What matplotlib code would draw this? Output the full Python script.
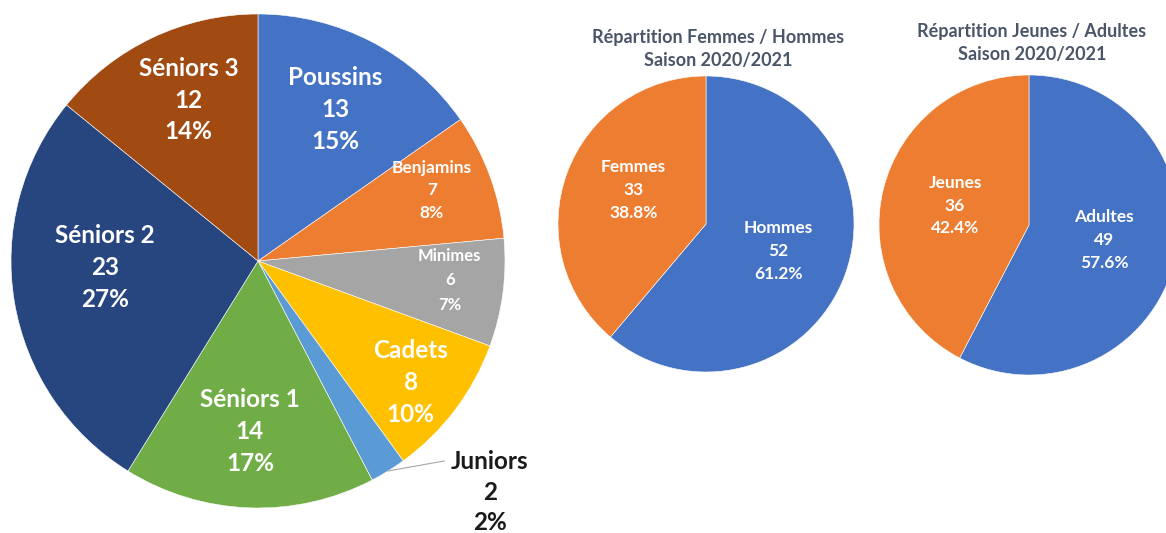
import numpy as np
import matplotlib.pyplot as plt

# --- data ---
cat_names = ["Poussins", "Benjamins", "Minimes", "Cadets", "Juniors",
             "Séniors 1", "Séniors 2", "Séniors 3"]
cat_counts = [13, 7, 6, 8, 2, 14, 23, 12]
cat_pcts = ["15%", "8%", "7%", "10%", "2%", "17%", "27%", "14%"]

sex_names = ["Hommes", "Femmes"]
sex_counts = [52, 33]
sex_pcts = ["61.2%", "38.8%"]

age_names = ["Adultes", "Jeunes"]
age_counts = [49, 36]
age_pcts = ["57.6%", "42.4%"]

title_sex = "Répartition Femmes / Hommes\nSaison 2020/2021"
title_age = "Répartition Jeunes / Adultes\nSaison 2020/2021"

cat_colors = ["#4472C4", "#ED7D31", "#A5A5A5", "#FFC000", "#5B9BD5",
              "#70AD47", "#274680", "#A14A12"]
duo_colors = ["#4472C4", "#ED7D31"]

FONT = ["Lato", "DejaVu Sans"]
W, H = 1166, 533


def px(x, y):
    # pixel position (y down) -> data coords (y up)
    return (x, H - y)


def put_labels(ax, wedges, names, counts, pcts, center, radius, fracs,
               sizes, spacing, nudges=None, skip=()):
    for i, w in enumerate(wedges):
        if i in skip:
            continue
        mid = (w.theta1 + w.theta2) / 2 + (nudges[i] if nudges else 0)
        a = np.deg2rad(mid)
        x = center[0] + fracs[i] * radius * np.cos(a)
        y = center[1] + fracs[i] * radius * np.sin(a)
        ax.text(x, y, f"{names[i]}\n{counts[i]}\n{pcts[i]}", ha="center",
                va="center", color="white", fontsize=sizes[i],
                fontweight="bold", family=FONT, linespacing=spacing[i])


fig = plt.figure(figsize=(W / 100, H / 100), dpi=100)
ax = fig.add_axes([0, 0, 1, 1])

# big pie: categories
c1, r1 = px(258, 261), 247
w1, _ = ax.pie(cat_counts, colors=cat_colors, startangle=90, counterclock=False,
               center=c1, radius=r1,
               wedgeprops=dict(edgecolor="white", linewidth=0.4))
put_labels(ax, w1, cat_names, cat_counts, cat_pcts, c1, r1,
           fracs=[0.69, 0.76, 0.78, 0.79, 0, 0.69, 0.62, 0.71],
           sizes=[17.5, 12.5, 12, 17.5, 0, 17.5, 17.5, 17.5],
           spacing=[1.47, 1.5, 1.65, 1.47, 0, 1.47, 1.47, 1.47],
           nudges=[0.5, 2, 1.7, -1.4, 0, -0.6, -7, -2], skip=(4,))

# Juniors: outside label with leader line
jw = w1[4]
ja = np.deg2rad((jw.theta1 + jw.theta2) / 2)
ex, ey = c1[0] + r1 * np.cos(ja), c1[1] + r1 * np.sin(ja)
ax.plot([ex, ex + 56], [ey, ey + 10], color="#a6a6a6", lw=0.8)
ax.text(ex + 102, ey - 21, f"{cat_names[4]}\n{cat_counts[4]}\n{cat_pcts[4]}",
        ha="center", va="center", color="#1a1a1a", fontsize=17.5,
        fontweight="bold", family=FONT, linespacing=1.42)

# pie 2: sex
c2, r2 = px(706, 224), 148
w2, _ = ax.pie(sex_counts, colors=duo_colors, startangle=90, counterclock=False,
               center=c2, radius=r2,
               wedgeprops=dict(edgecolor="white", linewidth=0.4))
put_labels(ax, w2, sex_names, sex_counts, sex_pcts, c2, r2,
           fracs=[0.52, 0.54], sizes=[12.5, 12.5], spacing=[1.52, 1.52],
           nudges=[-0.5, -5])
ax.text(*px(718, 49), title_sex, ha="center", va="center", color="#4a5668",
        fontsize=13, fontweight="bold", family=FONT, linespacing=1.4)

# pie 3: age
c3, r3 = px(1029, 225), 150
w3, _ = ax.pie(age_counts, colors=duo_colors, startangle=90, counterclock=False,
               center=c3, radius=r3,
               wedgeprops=dict(edgecolor="white", linewidth=0.4))
put_labels(ax, w3, age_names, age_counts, age_pcts, c3, r3,
           fracs=[0.51, 0.51], sizes=[12.5, 12.5], spacing=[1.52, 1.52],
           nudges=[2.5, -1])
ax.text(*px(1032, 43), title_age, ha="center", va="center", color="#4a5668",
        fontsize=13, fontweight="bold", family=FONT, linespacing=1.4)

ax.set_xlim(0, W)
ax.set_ylim(0, H)
ax.set_aspect("equal")
ax.axis("off")

fig.savefig("out.png", dpi=100, facecolor="white")
